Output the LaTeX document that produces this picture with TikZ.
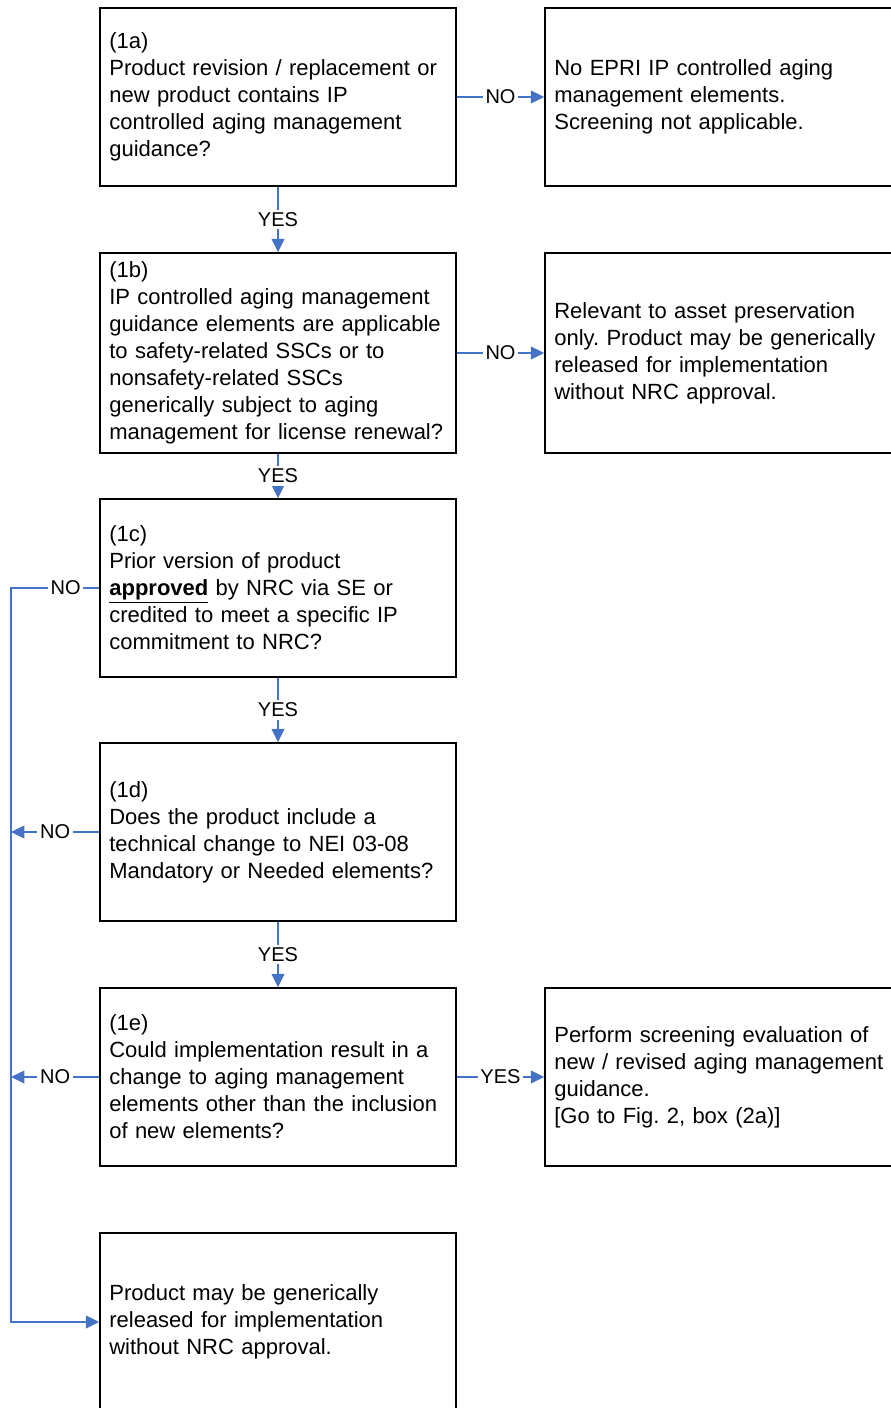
\documentclass[tikz,border=0pt]{standalone}
\usepackage{fontspec}
\setmainfont{Liberation Sans}
\frenchspacing
\usetikzlibrary{arrows.meta}
\definecolor{flowblue}{HTML}{4472C4}

\begin{document}
\begin{tikzpicture}[x=0.75pt,y=-0.75pt,
    box/.style={draw,line width=1.1pt,rectangle,minimum width=267pt,minimum height=133.5pt,
      text width=253pt,inner xsep=7pt,align=left,font=\fontsize{16.5}{20.25}\selectfont},
    flow/.style={draw=flowblue,line width=1.1pt,-{Triangle[width=9.5pt,length=10pt]}},
    lbl/.style={fill=white,inner sep=2pt,font=\fontsize{15}{18}\selectfont}]
  \clip (0,0) rectangle (891,1408);
  % question boxes
  \node[box] (q1a) at (278,97) {(1a)\\Product revision / replacement or\\new product contains IP\\controlled aging management\\guidance?};
  \node[box,minimum height=150pt] (q1b) at (278,353) {(1b)\\IP controlled aging management\\guidance elements are applicable\\to safety-related SSCs or to\\nonsafety-related SSCs\\generically subject to aging\\management for license renewal?};
  \node[box] (q1c) at (278,588) {(1c)\\Prior version of product\\\underline{\textbf{approved}} by NRC via SE or\\credited to meet a specific IP\\commitment to NRC?};
  \node[box] (q1d) at (278,832) {(1d)\\Does the product include a\\technical change to NEI 03-08\\Mandatory or Needed elements?};
  \node[box] (q1e) at (278,1077) {(1e)\\Could implementation result in a\\change to aging management\\elements other than the inclusion\\of new elements?};
  \node[box] (rel) at (278,1322) {Product may be generically\\released for implementation\\without NRC approval.};
  % outcome boxes
  \node[box] (noip) at (723,97) {No EPRI IP controlled aging\\management elements.\\Screening not applicable.};
  \node[box,minimum height=150pt] (asset) at (723,353) {Relevant to asset preservation\\only. Product may be generically\\released for implementation\\without NRC approval.};
  \node[box] (screen) at (723,1077) {Perform screening evaluation of\\new / revised aging management\\guidance.\\{[}Go to Fig. 2, box (2a)]};
  % connectors
  \coordinate (lft) at (11,0);
  \draw[flow] (q1a) -- node[lbl]{NO} (noip);
  \draw[flow] (q1b) -- node[lbl]{NO} (asset);
  \draw[flow] (q1e) -- node[lbl]{YES} (screen);
  \draw[flow] (q1a) -- node[lbl]{YES} (q1b);
  \draw[flow] (q1b) -- node[lbl]{YES} (q1c);
  \draw[flow] (q1c) -- node[lbl]{YES} (q1d);
  \draw[flow] (q1d) -- node[lbl]{YES} (q1e);
  \draw[flow] (q1c.west) -- node[lbl,pos=0.38]{NO} (q1c.west -| lft) |- (rel.west);
  \draw[flow] (q1d.west) -- node[lbl]{NO} (q1d.west -| lft);
  \draw[flow] (q1e.west) -- node[lbl]{NO} (q1e.west -| lft);
\end{tikzpicture}
\end{document}
